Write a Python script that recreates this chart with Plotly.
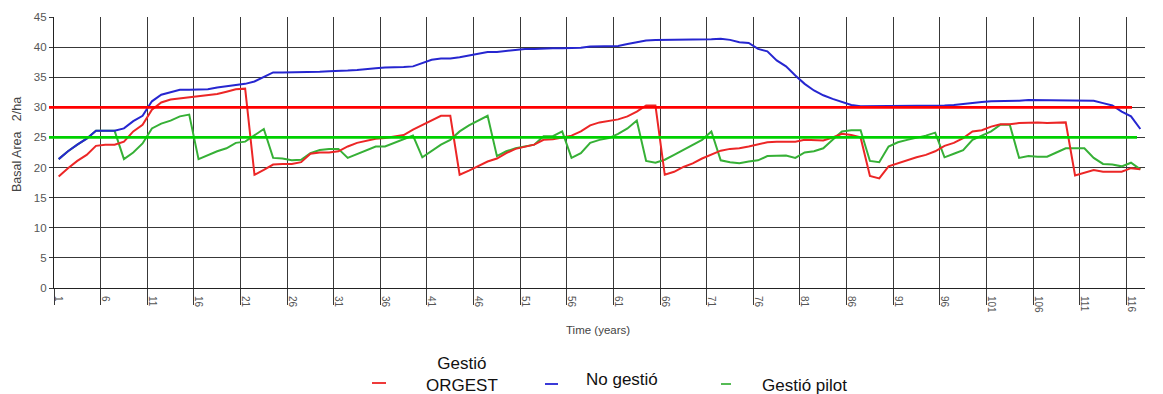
import plotly.graph_objects as go

# ---------------- data ----------------
years = list(range(1, 118))
tick_years = list(range(1, 117, 5))
tick_labels = [str(v) for v in tick_years]
grid_bounds = [v - 0.5 for v in tick_years]
y_ticks = list(range(0, 46, 5))

no_gestio = [
    21.4, 22.7, 23.8, 24.8, 26.1, 26.1, 26.1, 26.5, 27.7, 28.6,
    31.0, 32.1, 32.5, 32.9, 32.9, 32.9, 33.0, 33.3, 33.5, 33.7,
    33.9, 34.3, 35.1, 35.8, 35.8, 35.8, 35.8, 35.9, 35.9, 36.0,
    36.0, 36.1, 36.2, 36.4, 36.5, 36.6, 36.6, 36.7, 36.8, 37.3,
    37.9, 38.1, 38.1, 38.3, 38.6, 38.9, 39.2, 39.2, 39.4, 39.6,
    39.7, 39.7, 39.8, 39.8, 39.8, 39.8, 39.9, 40.1, 40.1, 40.1,
    40.2, 40.5, 40.8, 41.1, 41.2, 41.2, 41.2, 41.2, 41.2, 41.2,
    41.3, 41.4, 41.2, 40.8, 40.7, 39.7, 39.3, 37.8, 36.8, 35.3,
    33.9, 32.8, 32.0, 31.4, 30.9, 30.4, 30.2, 30.2, 30.2, 30.2,
    30.3, 30.3, 30.3, 30.3, 30.3, 30.3, 30.4, 30.6, 30.8, 30.9,
    31.0, 31.0, 31.0, 31.1, 31.2, 31.2, 31.2, 31.2, 31.2, 31.2,
    31.2, 31.1, 30.7, 30.3, 29.3, 28.5, 26.4,
]

orgest = [
    18.5, 19.9, 21.1, 22.1, 23.6, 23.8, 23.8, 24.3, 26.0, 27.1,
    29.6, 30.8, 31.3, 31.5, 31.6, 31.8, 32.0, 32.2, 32.6, 33.0,
    33.1, 18.8, 19.6, 20.5, 20.6, 20.6, 20.9, 22.3, 22.5, 22.5,
    22.7, 23.5, 24.1, 24.4, 24.8, 24.9, 25.2, 25.4, 26.3, 27.1,
    27.9, 28.6, 28.6, 18.8, 19.5, 20.2, 21.0, 21.5, 22.4, 23.1,
    23.4, 23.8, 24.6, 24.7, 25.0, 25.3, 26.0, 27.0, 27.5, 27.7,
    28.0, 28.5, 29.3, 30.3, 30.3, 18.8, 19.3, 20.1, 20.7, 21.5,
    22.1, 22.8, 23.1, 23.2, 23.5, 23.8, 24.2, 24.3, 24.3, 24.3,
    24.6, 24.5, 24.5, 25.0, 25.6, 25.4, 25.0, 18.6, 18.2, 20.2,
    20.7, 21.3, 21.7, 22.1, 22.7, 23.6, 24.1, 24.9, 26.0, 26.2,
    26.8, 27.2, 27.2, 27.4, 27.5, 27.5, 27.4, 27.5, 27.5, 18.7,
    19.1, 19.6, 19.3, 19.3, 19.3, 19.9, 19.7,
]

pilot = [
    21.4, 22.7, 23.8, 24.8, 26.1, 26.1, 26.1, 21.4, 22.5, 24.0,
    26.5, 27.3, 27.8, 28.5, 28.8, 21.4, 22.1, 22.7, 23.2, 24.1,
    24.3, 25.3, 26.4, 21.6, 21.5, 21.2, 21.3, 22.4, 22.9, 23.1,
    23.1, 21.6, 22.2, 22.9, 23.5, 23.5, 24.1, 24.6, 25.3, 21.7,
    22.7, 23.8, 24.6, 26.0, 27.0, 27.8, 28.6, 21.9, 22.7, 23.2,
    23.5, 23.8, 25.2, 25.2, 26.0, 21.6, 22.4, 24.1, 24.6, 24.9,
    25.6, 26.5, 27.8, 21.1, 20.8, 21.3, 22.1, 22.9, 23.8, 24.6,
    26.0, 21.2, 20.9, 20.7, 21.0, 21.2, 21.9, 22.0, 22.0, 21.6,
    22.5, 22.7, 23.2, 24.6, 26.0, 26.2, 26.2, 21.1, 20.9, 23.5,
    24.2, 24.6, 24.9, 25.3, 25.8, 21.7, 22.3, 22.9, 24.6, 25.3,
    26.0, 27.1, 27.1, 21.6, 21.9, 21.8, 21.8, 22.5, 23.2, 23.2,
    23.2, 21.6, 20.6, 20.5, 20.2, 20.8, 19.7,
]

orgest_threshold = 30
pilot_threshold = 25

# ---------------- figure ----------------
W, H = 1163, 394
ML, MR, MT, MB = 54, 18, 17, 106
PW, PH = W - ML - MR, H - MT - MB


def px(xp):
    return (xp - ML) / PW


def py(yp):
    return (H - MB - yp) / PH


fig = go.Figure()
fig.add_trace(go.Scatter(x=years, y=pilot, mode="lines", name="Gestió pilot",
                         line=dict(color="#36b036", width=2)))
fig.add_trace(go.Scatter(x=years, y=orgest, mode="lines", name="Gestió ORGEST",
                         line=dict(color="#ec2626", width=2)))
fig.add_trace(go.Scatter(x=years, y=no_gestio, mode="lines", name="No gestió",
                         line=dict(color="#2626d0", width=2)))

grid_col = "#383838"
tick_font = dict(family="Liberation Sans, Arial, sans-serif", size=10, color="#555")

fig.update_layout(
    width=W, height=H,
    margin=dict(l=ML, r=MR, t=MT, b=MB, autoexpand=False),
    paper_bgcolor="white", plot_bgcolor="white",
    showlegend=False,
    font=dict(family="Liberation Sans, Arial, sans-serif", color="#333"),
    xaxis=dict(
        range=[0.5, 117.5], tickmode="array", tickvals=tick_years, ticktext=tick_labels,
        tickangle=90, tickfont=tick_font, showgrid=False, ticks="", zeroline=False,
        showline=True, linecolor="#222", linewidth=1, automargin=False,
        ticklabelstandoff=5,
        minor=dict(tickmode="array", tickvals=grid_bounds, showgrid=True,
                   gridcolor=grid_col, gridwidth=1.2, ticks="outside", ticklen=16,
                   tickcolor=grid_col, tickwidth=1.2),
    ),
    yaxis=dict(
        range=[0, 45], tickmode="array", tickvals=y_ticks, showgrid=True,
        gridcolor=grid_col, gridwidth=1.2, ticks="outside", ticklen=4, tickcolor=grid_col,
        tickfont=dict(family="Liberation Sans, Arial, sans-serif", size=11.5, color="#555"),
        zeroline=False, showline=True, linecolor="#222", linewidth=1.2, automargin=False,
    ),
    yaxis2=dict(
        range=[0, 45], tickmode="array", tickvals=y_ticks, overlaying="y", side="right",
        anchor="x", showgrid=False, ticks="outside", ticklen=4, tickcolor=grid_col,
        tickfont=dict(family="Liberation Sans, Arial, sans-serif", size=11.5, color="#555"),
        zeroline=False, showline=True, linecolor="#222", linewidth=1.2, automargin=False,
    ),
)

# threshold lines
fig.add_shape(type="line", xref="paper", yref="y", x0=px(49), x1=px(1132),
              y0=orgest_threshold, y1=orgest_threshold,
              line=dict(color="#ff0000", width=2.8), layer="above")
fig.add_shape(type="line", xref="paper", yref="y", x0=px(49), x1=px(1137),
              y0=pilot_threshold, y1=pilot_threshold,
              line=dict(color="#00d000", width=2.8), layer="above")

# axis titles
fig.add_annotation(text="Time (years)", xref="paper", yref="paper", x=px(598), y=py(330),
                   showarrow=False, font=dict(size=11.5, color="#444"),
                   xanchor="center", yanchor="middle")
fig.add_annotation(text="Basal Area   2/ha", xref="paper", yref="paper", x=px(17), y=py(145),
                   showarrow=False, textangle=-90, font=dict(size=12.5, color="#444"),
                   xanchor="center", yanchor="middle")

# legend (drawn manually to match the reference layout)
leg_font = dict(family="Liberation Sans, Arial, sans-serif", size=17, color="#111")
legend_items = [
    ("#ee3a3a", 372, 386, 383),
    ("#3a3ad8", 545, 558, 384),
    ("#55bb55", 721, 731, 384),
]
for col, x0, x1, yy in legend_items:
    fig.add_shape(type="line", xref="paper", yref="paper", x0=px(x0), x1=px(x1),
                  y0=py(yy), y1=py(yy), line=dict(color=col, width=2))
fig.add_annotation(text="Gestió<br>ORGEST", xref="paper", yref="paper", x=px(462), y=py(374),
                   showarrow=False, font=leg_font, align="center",
                   xanchor="center", yanchor="middle")
fig.add_annotation(text="No gestió", xref="paper", yref="paper", x=px(622), y=py(379),
                   showarrow=False, font=leg_font, xanchor="center", yanchor="middle")
fig.add_annotation(text="Gestió pilot", xref="paper", yref="paper", x=px(760), y=py(385),
                   showarrow=False, font=leg_font, xanchor="left", yanchor="middle")

fig.write_html("out.html")
